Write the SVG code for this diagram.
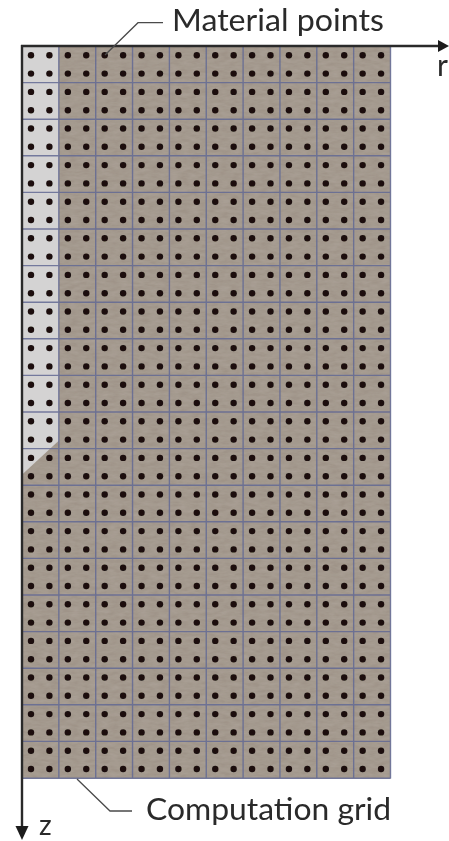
<svg xmlns="http://www.w3.org/2000/svg" width="449" height="841" viewBox="0 0 449 841">
<style>
text{font-family:Lato,"Open Sans","Liberation Sans",sans-serif;fill:#2a2a2a}
.lbl{font-size:30px}
.small{font-size:28px}
.grid{stroke:#636a94;stroke-width:1.4;fill:none;opacity:.85}
.lead{stroke:#4a4a4a;stroke-width:1.3;fill:none}
.axis{stroke:#2a2a2a;stroke-width:2.4;fill:none}
.head{fill:#1c1c1c}
.dot{fill:#1a110d}
</style>
<defs>
<filter id="tex" x="0" y="0" width="100%" height="100%">
<feTurbulence type="fractalNoise" baseFrequency="0.1 0.3" numOctaves="3" seed="4"/>
<feColorMatrix type="matrix" values="0 0 0 0 0.6  0 0 0 0 0.555  0 0 0 0 0.5  0 0 0 0.28 0"/>
<feComposite in2="SourceGraphic" operator="in"/>
<feMerge><feMergeNode in="SourceGraphic"/><feMergeNode/></feMerge>
</filter>
<filter id="soft" x="-5%" y="-5%" width="110%" height="110%"><feGaussianBlur stdDeviation="0.45"/></filter>
<g id="cell">
<circle class="dot" cx="31" cy="55.3" r="3.2"/>
<circle class="dot" cx="49.4" cy="55.3" r="3.2"/>
<circle class="dot" cx="31" cy="73.6" r="3.2"/>
<circle class="dot" cx="49.4" cy="73.6" r="3.2"/>
</g>
<g id="row">
<use href="#cell"/>
<use href="#cell" x="36.85"/>
<use href="#cell" x="73.7"/>
<use href="#cell" x="110.55"/>
<use href="#cell" x="147.4"/>
<use href="#cell" x="184.25"/>
<use href="#cell" x="221.1"/>
<use href="#cell" x="257.95"/>
<use href="#cell" x="294.8"/>
<use href="#cell" x="331.65"/>
</g>
</defs>
<rect width="449" height="841" fill="#fff"/>
<g id="domain">
<rect x="22" y="46" width="368.5" height="732.5" fill="#9c9185" filter="url(#tex)"/>
<polygon points="22,46 58.7,46 58.7,440.7 22.7,474 22,474" fill="#d4d3d3"/>
</g>
<g id="grid" class="grid" filter="url(#soft)">
<path d="M58.85 46V778.5M95.7 46V778.5M132.55 46V778.5M169.4 46V778.5M206.25 46V778.5M243.1 46V778.5M279.95 46V778.5M316.8 46V778.5M353.65 46V778.5M390.5 46V778.5"/>
<path d="M22 82.6H390.5M22 119.2H390.5M22 155.8H390.5M22 192.4H390.5M22 229H390.5M22 265.6H390.5M22 302.2H390.5M22 338.8H390.5M22 375.4H390.5M22 412H390.5M22 448.6H390.5M22 485.2H390.5M22 521.8H390.5M22 558.4H390.5M22 595H390.5M22 631.6H390.5M22 668.2H390.5M22 704.8H390.5M22 741.4H390.5M22 778.2H390.5"/>
</g>
<g id="material-points" filter="url(#soft)">
<use href="#row"/>
<use href="#row" y="36.6"/>
<use href="#row" y="73.2"/>
<use href="#row" y="109.8"/>
<use href="#row" y="146.4"/>
<use href="#row" y="183"/>
<use href="#row" y="219.6"/>
<use href="#row" y="256.2"/>
<use href="#row" y="292.8"/>
<use href="#row" y="329.4"/>
<use href="#row" y="366"/>
<use href="#row" y="402.6"/>
<use href="#row" y="439.2"/>
<use href="#row" y="475.8"/>
<use href="#row" y="512.4"/>
<use href="#row" y="549"/>
<use href="#row" y="585.6"/>
<use href="#row" y="622.2"/>
<use href="#row" y="658.8"/>
<use href="#row" y="695.4"/>
</g>
<g id="connectors">
<path class="axis" d="M21 46H440"/>
<polygon class="head" points="449,46 438,40 438,52"/>
<path class="axis" d="M22 45V830"/>
<polygon class="head" points="22,840 15.5,826 28.5,826"/>
<path class="lead" d="M105 55L138 22.7H163"/>
<path class="lead" d="M77 779L110 811H132"/>
</g>
<g id="labels">
<text class="lbl" x="172" y="31" textLength="212" lengthAdjust="spacingAndGlyphs">Material points</text>
<text class="lbl" x="146" y="820" textLength="245" lengthAdjust="spacingAndGlyphs">Computation grid</text>
<text class="lbl" x="437" y="76">r</text>
<text class="small" x="39" y="835">z</text>
</g>
</svg>
